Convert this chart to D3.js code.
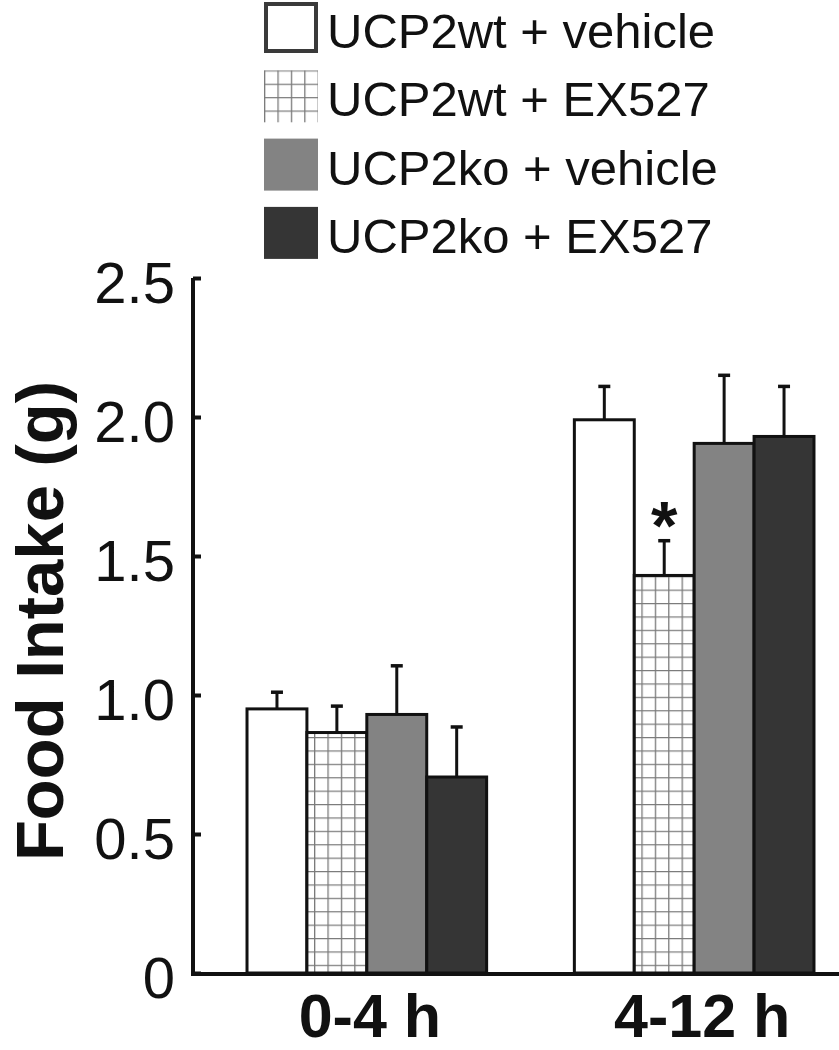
<!doctype html>
<html>
<head>
<meta charset="utf-8">
<style>
    body { margin: 0; background: #fff; }
    text { font-family: "Liberation Sans", Arial, Helvetica, sans-serif; fill: #111; }
</style>
<script src="https://d3js.org/d3.v7.min.js"></script>
</head>
<body>
<svg id="chart" width="839" height="1050"></svg>
<script>
// data
var groups = ["0-4 h", "4-12 h"];
var series = ["UCP2wt + vehicle", "UCP2wt + EX527", "UCP2ko + vehicle", "UCP2ko + EX527"];
var means = [
    [0.95, 0.865, 0.93, 0.705],
    [1.99, 1.43, 1.905, 1.93]
];
var errors = [
    [0.06, 0.095, 0.175, 0.18],
    [0.12, 0.125, 0.245, 0.18]
];
var significant = [
    [false, false, false, false],
    [false, true, false, false]
];
var yTicks = [0, 0.5, 1.0, 1.5, 2.0, 2.5];

var svg = d3.select("#chart");

// hatched grid pattern
var defs = svg.append("defs");
var pat = defs.append("pattern")
    .attr("id", "grid")
    .attr("patternUnits", "userSpaceOnUse")
    .attr("width", 13.4)
    .attr("height", 13.4);
pat.append("rect").attr("width", 13.4).attr("height", 13.4).attr("fill", "#fff");
pat.append("path")
    .attr("d", "M0.6,0V13.4M0,0.6H13.4")
    .attr("stroke", "#7a7a7a")
    .attr("stroke-width", 1.4);

var fills = ["#ffffff", "url(#grid)", "#838383", "#353535"];

// scales
var x0 = d3.scaleBand().domain(groups).range([193, 868])
    .paddingInner(0.268).paddingOuter(0.165);
var x1 = d3.scaleBand().domain(series).range([0, x0.bandwidth()]);
var y = d3.scaleLinear().domain([0, 2.5]).range([973, 278]);

// bars
var rows = [];
groups.forEach(function(g, i) {
    series.forEach(function(s, j) {
        rows.push({ group: g, series: s, mean: means[i][j], err: errors[i][j], sig: significant[i][j], fill: fills[j] });
    });
});

var bar = svg.append("g").selectAll("g")
    .data(rows)
    .enter().append("g")
    .attr("transform", function(d) { return "translate(" + x0(d.group) + ",0)"; });

bar.append("rect")
    .attr("x", function(d) { return x1(d.series); })
    .attr("y", function(d) { return y(d.mean); })
    .attr("width", x1.bandwidth())
    .attr("height", function(d) { return y(0) - y(d.mean); })
    .attr("fill", function(d) { return d.fill; })
    .attr("stroke", "#111")
    .attr("stroke-width", 3);

// error bars (upper only)
bar.append("line")
    .attr("x1", function(d) { return x1(d.series) + x1.bandwidth() / 2; })
    .attr("x2", function(d) { return x1(d.series) + x1.bandwidth() / 2; })
    .attr("y1", function(d) { return y(d.mean); })
    .attr("y2", function(d) { return y(d.mean + d.err); })
    .attr("stroke", "#111")
    .attr("stroke-width", 3);

bar.append("line")
    .attr("x1", function(d) { return x1(d.series) + x1.bandwidth() / 2 - 6; })
    .attr("x2", function(d) { return x1(d.series) + x1.bandwidth() / 2 + 6; })
    .attr("y1", function(d) { return y(d.mean + d.err); })
    .attr("y2", function(d) { return y(d.mean + d.err); })
    .attr("stroke", "#111")
    .attr("stroke-width", 3.5);

bar.filter(function(d) { return d.sig; })
    .append("text")
    .attr("x", function(d) { return x1(d.series) + x1.bandwidth() / 2; })
    .attr("y", function(d) { return y(d.mean + d.err) + 8; })
    .attr("text-anchor", "middle")
    .attr("font-size", "68px")
    .attr("font-weight", "bold")
    .text("*");

// y axis
var yAxis = svg.append("g")
    .attr("transform", "translate(193,0)")
    .call(d3.axisLeft(y).tickValues(yTicks)
        .tickSizeInner(-8).tickSizeOuter(0).tickPadding(18)
        .tickFormat(function(d) { return d === 0 ? "0" : d3.format(".1f")(d); }));
yAxis.select(".domain").attr("stroke", "#111").attr("stroke-width", 4)
    .attr("d", "M0," + y(2.5) + "V" + (y(0) + 3));
yAxis.selectAll(".tick line").attr("stroke", "#111").attr("stroke-width", 4);
yAxis.selectAll(".tick text")
    .attr("font-size", "58px")
    .attr("dy", "0.42em")
    .style("font-family", "'Liberation Sans', Arial, sans-serif")
    .attr("fill", "#111");

// x axis
var xAxis = svg.append("g")
    .attr("transform", "translate(0,974)")
    .call(d3.axisBottom(x0).tickSize(0).tickPadding(20));
xAxis.select(".domain").attr("stroke", "#111").attr("stroke-width", 4)
    .attr("d", "M191,0H868");
xAxis.selectAll(".tick text")
    .attr("font-size", "61px")
    .attr("font-weight", "bold")
    .attr("dy", "0.7em")
    .attr("dx", function(d, i) { return i === 0 ? 3 : 8; })
    .style("font-family", "'Liberation Sans', Arial, sans-serif")
    .attr("fill", "#111");

// y label
svg.append("text")
    .attr("transform", "translate(63,621) rotate(-90)")
    .attr("text-anchor", "middle")
    .attr("font-size", "67px")
    .attr("font-weight", "bold")
    .text("Food Intake (g)");

// legend
var legend = svg.append("g").selectAll("g")
    .data(series)
    .enter().append("g")
    .attr("transform", function(d, i) { return "translate(264," + (2 + i * 68.3) + ")"; });

legend.append("rect")
    .attr("x", function(d, i) { return i === 0 ? 2 : 0; })
    .attr("y", function(d, i) { return i === 0 ? 2 : 0; })
    .attr("width", function(d, i) { return i === 0 ? 50 : 54; })
    .attr("height", function(d, i) { return i === 0 ? 47 : 52; })
    .attr("fill", function(d, i) { return fills[i]; })
    .attr("stroke", function(d, i) { return i === 0 ? "#3a3a3a" : "none"; })
    .attr("stroke-width", 4);

legend.append("text")
    .attr("x", 63)
    .attr("y", 46)
    .attr("font-size", "49px")
    .text(function(d) { return d; });
</script>
</body>
</html>
